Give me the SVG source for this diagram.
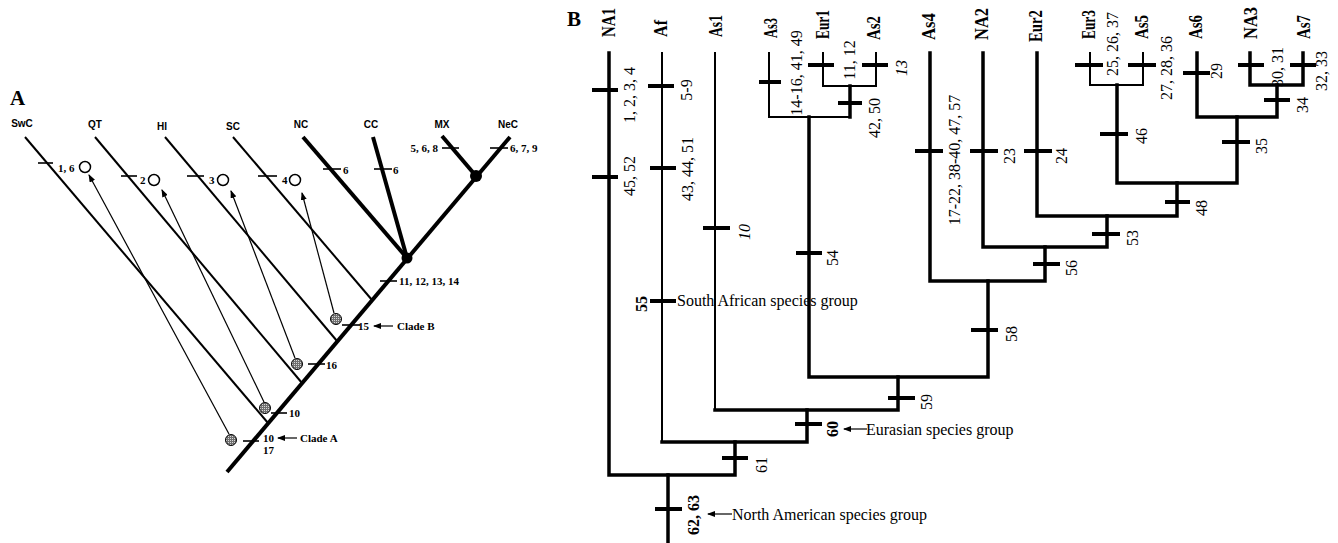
<svg xmlns="http://www.w3.org/2000/svg" width="1338" height="543" viewBox="0 0 1338 543">
<style>
.thick{stroke:#000;stroke-width:3.5;fill:none;stroke-linecap:square}
.thin{stroke:#000;stroke-width:2;fill:none;stroke-linecap:square}
.tick{stroke:#000;stroke-width:4}
.athk{stroke:#000;stroke-width:4;fill:none}
.amed{stroke:#000;stroke-width:2;fill:none}
.atk{stroke:#000;stroke-width:1.6}
.arr{stroke:#000;stroke-width:1.2;fill:none}
.lab{font-family:"Liberation Serif",serif;font-size:16px}
.leaf{font-family:"Liberation Serif",serif;font-size:18px;font-weight:bold}
.grp{font-family:"Liberation Serif",serif;font-size:16px}
.sa{font-family:"Liberation Sans",sans-serif;font-weight:bold;font-size:10px;text-anchor:middle}
.na{font-family:"Liberation Serif",serif;font-weight:bold;font-size:11px}
.big{font-family:"Liberation Serif",serif;font-weight:bold;font-size:21px}
.b{font-weight:bold}
.i{font-style:italic}
.open{fill:#fff;stroke:#000;stroke-width:1.5}
.shade{fill:url(#dots);stroke:#000;stroke-width:1}
</style>
<defs>
<pattern id="dots" width="2" height="2" patternUnits="userSpaceOnUse"><rect width="2" height="2" fill="#6f6f6f"/><rect width="1" height="1" fill="#d8d8d8"/></pattern>
<marker id="ah" markerWidth="8" markerHeight="6" refX="7" refY="3" orient="auto" markerUnits="userSpaceOnUse"><path d="M0,0 L8,3 L0,6 Z" fill="#000"/></marker>
</defs>
<rect width="1338" height="543" fill="#fff"/>

<!-- Panel A -->
<text class="big" x="10" y="105">A</text>
<g id="connectors-A">
<path class="athk" d="M227,472 L510,137"/>
<path class="athk" d="M407,258 L303,137"/>
<path class="athk" d="M407,258 L373,137"/>
<path class="athk" d="M476,176 L442,136"/>
<path class="amed" d="M25,137 L268,423"/>
<path class="amed" d="M95,137 L302,383"/>
<path class="amed" d="M165,137 L337,341"/>
<path class="amed" d="M233,137 L372,300"/>
<path class="arr" d="M229,434 L89,175" marker-end="url(#ah)"/>
<path class="arr" d="M264,402 L162,190" marker-end="url(#ah)"/>
<path class="arr" d="M295,358 L231,191" marker-end="url(#ah)"/>
<path class="arr" d="M334,313 L302,193" marker-end="url(#ah)"/>
<path class="arr" d="M393,326 L374,326" marker-end="url(#ah)"/>
<path class="arr" d="M297,438 L278,438" marker-end="url(#ah)"/>
</g>
<g id="ticks-A">
<line class="atk" x1="38" y1="163" x2="53" y2="163"/>
<line class="atk" x1="121" y1="176" x2="137" y2="176"/>
<line class="atk" x1="187" y1="176" x2="204" y2="176"/>
<line class="atk" x1="258" y1="176" x2="277" y2="176"/>
<line class="atk" x1="323" y1="169" x2="341" y2="169"/>
<line class="atk" x1="374" y1="169" x2="392" y2="169"/>
<line class="atk" x1="442" y1="148" x2="459" y2="148"/>
<line class="atk" x1="490" y1="148" x2="508" y2="148"/>
<line class="atk" x1="380" y1="281" x2="397" y2="281"/>
<line class="atk" x1="342" y1="325" x2="360" y2="325"/>
<line class="atk" x1="308" y1="364" x2="325" y2="364"/>
<line class="atk" x1="271" y1="413" x2="287" y2="413"/>
<line class="atk" x1="243" y1="441" x2="259" y2="441"/>
</g>
<g id="node-SwC"><text class="sa" x="22" y="127">SwC</text><circle class="open" cx="85" cy="167" r="5.5"/><text class="na" x="58" y="172">1, 6</text></g>
<g id="node-QT"><text class="sa" x="95" y="128">QT</text><circle class="open" cx="154" cy="180" r="5.5"/><text class="na" x="140" y="184">2</text></g>
<g id="node-HI"><text class="sa" x="162" y="130">HI</text><circle class="open" cx="223" cy="180" r="5.5"/><text class="na" x="209" y="184">3</text></g>
<g id="node-SC"><text class="sa" x="233" y="130">SC</text><circle class="open" cx="295" cy="180" r="5.5"/><text class="na" x="282" y="184">4</text></g>
<g id="node-NC"><text class="sa" x="301" y="128">NC</text><text class="na" x="343" y="174">6</text></g>
<g id="node-CC"><text class="sa" x="371" y="128">CC</text><text class="na" x="393" y="174">6</text></g>
<g id="node-MX"><text class="sa" x="442" y="128">MX</text><text class="na" x="438" y="152" text-anchor="end">5, 6, 8</text></g>
<g id="node-NeC"><text class="sa" x="508" y="128">NeC</text><text class="na" x="510" y="152">6, 7, 9</text></g>
<g id="node-dots-A"><circle cx="407" cy="258" r="5.5" fill="#000"/><circle cx="476" cy="176" r="6" fill="#000"/></g>
<g id="node-trunk-A">
<text class="na" x="399" y="285">11, 12, 13, 14</text>
<circle class="shade" cx="336" cy="319" r="5.5"/>
<text class="na" x="358" y="330">15</text><text class="na" x="397" y="330">Clade B</text>
<circle class="shade" cx="297" cy="364" r="5.5"/>
<text class="na" x="326" y="369">16</text>
<circle class="shade" cx="265" cy="408" r="5.5"/>
<text class="na" x="289" y="417">10</text>
<circle class="shade" cx="231" cy="440" r="5.5"/>
<text class="na" x="263" y="442">10</text><text class="na" x="300" y="442">Clade A</text>
<text class="na" x="263" y="454" font-weight="normal">17</text>
</g>

<!-- Panel B -->
<text class="big" x="567" y="26">B</text>
<g id="connectors-B">
<path class="thick" d="M609,53 V475 H735 V442"/>
<path class="thick" d="M668,475 V543"/>
<path class="thin" d="M662,53 V442"/>
<path class="thick" d="M662,442 H807 V410"/>
<path class="thin" d="M715,53 V410"/>
<path class="thick" d="M715,410 H898 V377"/>
<path class="thin" d="M769,53 V117 H850"/>
<path class="thick" d="M809,117 V377 H988 V281"/>
<path class="thick" d="M850,117 V86"/>
<path class="thin" d="M823,53 V86 H876 V53"/>
<path class="thick" d="M930,53 V281 H1045 V247"/>
<path class="thick" d="M983,53 V247 H1107 V216"/>
<path class="thick" d="M1037,53 V216 H1177 V183"/>
<path class="thin" d="M1090,53 V85 H1143 V53"/>
<path class="thick" d="M1117,85 V183 H1237 V117"/>
<path class="thick" d="M1197,53 V117 H1277 V85"/>
<path class="thick" d="M1250,53 V85 H1303 V53"/>
<path class="arr" d="M867,429 L844,429" marker-end="url(#ah)"/>
<path class="arr" d="M732,514 L708,514" marker-end="url(#ah)"/>
</g>
<g id="ticks-B">
<line class="tick" x1="592" y1="90" x2="618" y2="90"/>
<line class="tick" x1="592" y1="177" x2="618" y2="177"/>
<line class="tick" x1="648" y1="86" x2="674" y2="86"/>
<line class="tick" x1="650" y1="168" x2="676" y2="168"/>
<line class="tick" x1="650" y1="301" x2="676" y2="301"/>
<line class="tick" x1="703" y1="228" x2="730" y2="228"/>
<line class="tick" x1="759" y1="82" x2="781" y2="82"/>
<line class="tick" x1="796" y1="253" x2="822" y2="253"/>
<line class="tick" x1="808" y1="65" x2="834" y2="65"/>
<line class="tick" x1="862" y1="65" x2="888" y2="65"/>
<line class="tick" x1="838" y1="103" x2="862" y2="103"/>
<line class="tick" x1="915" y1="151" x2="943" y2="151"/>
<line class="tick" x1="970" y1="151" x2="998" y2="151"/>
<line class="tick" x1="1024" y1="151" x2="1052" y2="151"/>
<line class="tick" x1="1075" y1="65" x2="1103" y2="65"/>
<line class="tick" x1="1128" y1="65" x2="1156" y2="65"/>
<line class="tick" x1="1100" y1="134" x2="1128" y2="134"/>
<line class="tick" x1="1183" y1="73" x2="1210" y2="73"/>
<line class="tick" x1="1238" y1="65" x2="1264" y2="65"/>
<line class="tick" x1="1290" y1="65" x2="1316" y2="65"/>
<line class="tick" x1="1264" y1="100" x2="1290" y2="100"/>
<line class="tick" x1="1222" y1="142" x2="1250" y2="142"/>
<line class="tick" x1="1165" y1="202" x2="1190" y2="202"/>
<line class="tick" x1="1092" y1="234" x2="1120" y2="234"/>
<line class="tick" x1="1033" y1="264" x2="1060" y2="264"/>
<line class="tick" x1="971" y1="330" x2="998" y2="330"/>
<line class="tick" x1="888" y1="398" x2="915" y2="398"/>
<line class="tick" x1="795" y1="424" x2="822" y2="424"/>
<line class="tick" x1="722" y1="458" x2="748" y2="458"/>
<line class="tick" x1="655" y1="509" x2="682" y2="509"/>
</g>
<g id="node-NA1"><text class="leaf" transform="translate(615,37) rotate(-90)" textLength="29" lengthAdjust="spacingAndGlyphs">NA1</text></g>
<g id="node-Af"><text class="leaf" transform="translate(667,37) rotate(-90)" textLength="17" lengthAdjust="spacingAndGlyphs">Af</text></g>
<g id="node-As1"><text class="leaf" transform="translate(722,37) rotate(-90)" textLength="22" lengthAdjust="spacingAndGlyphs">As1</text></g>
<g id="node-As3"><text class="leaf" transform="translate(777,38) rotate(-90)" textLength="20" lengthAdjust="spacingAndGlyphs">As3</text></g>
<g id="node-Eur1"><text class="leaf" transform="translate(829,39) rotate(-90)" textLength="29" lengthAdjust="spacingAndGlyphs">Eur1</text></g>
<g id="node-As2"><text class="leaf" transform="translate(880,40) rotate(-90)" textLength="24" lengthAdjust="spacingAndGlyphs">As2</text></g>
<g id="node-As4"><text class="leaf" transform="translate(935,40) rotate(-90)" textLength="27" lengthAdjust="spacingAndGlyphs">As4</text></g>
<g id="node-NA2"><text class="leaf" transform="translate(988,40) rotate(-90)" textLength="32" lengthAdjust="spacingAndGlyphs">NA2</text></g>
<g id="node-Eur2"><text class="leaf" transform="translate(1042,42) rotate(-90)" textLength="32" lengthAdjust="spacingAndGlyphs">Eur2</text></g>
<g id="node-Eur3"><text class="leaf" transform="translate(1095,39) rotate(-90)" textLength="29" lengthAdjust="spacingAndGlyphs">Eur3</text></g>
<g id="node-As5"><text class="leaf" transform="translate(1148,39) rotate(-90)" textLength="24" lengthAdjust="spacingAndGlyphs">As5</text></g>
<g id="node-As6"><text class="leaf" transform="translate(1202,39) rotate(-90)" textLength="24" lengthAdjust="spacingAndGlyphs">As6</text></g>
<g id="node-NA3"><text class="leaf" transform="translate(1257,39) rotate(-90)" textLength="32" lengthAdjust="spacingAndGlyphs">NA3</text></g>
<g id="node-As7"><text class="leaf" transform="translate(1310,39) rotate(-90)" textLength="24" lengthAdjust="spacingAndGlyphs">As7</text></g>
<g id="labels-B" class="lab" text-anchor="middle">
<text transform="translate(635,95) rotate(-90)">1, 2, 3, 4</text>
<text transform="translate(635,176) rotate(-90)">45, 52</text>
<text transform="translate(692,90) rotate(-90)">5-9</text>
<text transform="translate(693,169) rotate(-90)">43, 44, 51</text>
<text class="i" transform="translate(750,232) rotate(-90)">10</text>
<text class="b" transform="translate(647,304) rotate(-90)">55</text>
<text transform="translate(802,73) rotate(-90)">14-16, 41, 49</text>
<text transform="translate(838,258) rotate(-90)">54</text>
<text transform="translate(855,60) rotate(-90)">11, 12</text>
<text class="i" transform="translate(907,68) rotate(-90)">13</text>
<text transform="translate(880,118) rotate(-90)">42, 50</text>
<text transform="translate(960,160) rotate(-90)">17-22, 38-40, 47, 57</text>
<text transform="translate(1015,156) rotate(-90)">23</text>
<text transform="translate(1067,156) rotate(-90)">24</text>
<text transform="translate(1118,44) rotate(-90)">25, 26, 37</text>
<text transform="translate(1172,68) rotate(-90)">27, 28, 36</text>
<text transform="translate(1147,136) rotate(-90)">46</text>
<text transform="translate(1222,71) rotate(-90)">29</text>
<text transform="translate(1283,67) rotate(-90)">30, 31</text>
<text transform="translate(1327,71) rotate(-90)">32, 33</text>
<text transform="translate(1308,105) rotate(-90)">34</text>
<text transform="translate(1267,146) rotate(-90)">35</text>
<text transform="translate(1207,208) rotate(-90)">48</text>
<text transform="translate(1138,238) rotate(-90)">53</text>
<text transform="translate(1077,268) rotate(-90)">56</text>
<text transform="translate(1017,334) rotate(-90)">58</text>
<text transform="translate(932,402) rotate(-90)">59</text>
<text class="b" transform="translate(838,429) rotate(-90)">60</text>
<text transform="translate(767,465) rotate(-90)">61</text>
<text class="b" transform="translate(699,515) rotate(-90)">62, 63</text>
</g>
<g id="group-labels" class="grp">
<text x="677" y="306">South African species group</text>
<text x="866" y="435">Eurasian species group</text>
<text x="732" y="520">North American species group</text>
</g>
</svg>
